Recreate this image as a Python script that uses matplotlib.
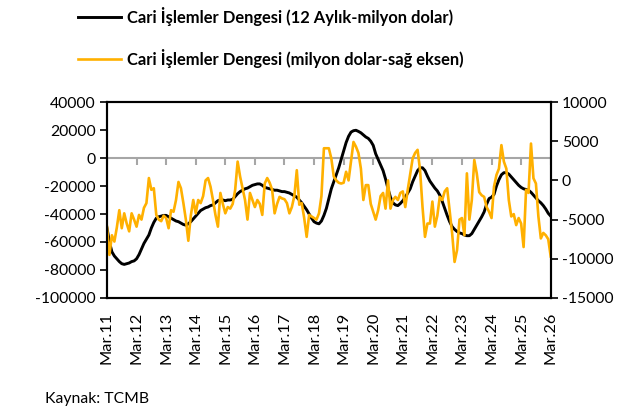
import numpy as np
import matplotlib
matplotlib.use("Agg")
from matplotlib import pyplot as plt

plt.rcParams['font.family'] = ['Lato', 'DejaVu Sans']
plt.rcParams['axes.unicode_minus'] = False

# 12 month rolling current account (million USD), monthly from Mar.11
cab_12m = [
  -50000, -60000, -67000, -70000, -72000, -74000, -75500, -76000, -75500, -75000,
  -74000, -73500, -72000, -69000, -65000, -61000, -58000, -55000, -50000, -46000,
  -43000, -42000, -41500, -41000, -41000, -42000, -43000, -44000, -45000, -45500,
  -46500, -47500, -48000, -47000, -45500, -43500, -41500, -39500, -37500, -36500,
  -35500, -35000, -34000, -33500, -32000, -30500, -30000, -30000, -30500, -30000,
  -30000, -29500, -27500, -25500, -24000, -23000, -22000, -21500, -20500, -19500,
  -19000, -18500, -18500, -19500, -21000, -21500, -22000, -22500, -23000, -23000,
  -23500, -24000, -24000, -24500, -25000, -26000, -27000, -28000, -30000, -32000,
  -34500, -37000, -40000, -43000, -45500, -46500, -47000, -45000, -41000, -36000,
  -29000, -22000, -17000, -12000, -7000, -1000, 5000, 11000, 15500, 18500,
  19500, 19800, 19000, 18000, 16500, 15000, 14000, 12000, 9000, 3000,
  -1000, -5000, -9000, -15000, -22000, -28000, -32000, -33500, -34000, -32500,
  -30500, -28000, -25000, -22000, -17000, -13000, -9000, -7000, -7000, -9000,
  -13000, -16500, -19000, -21500, -23500, -26500, -31000, -36000, -41000, -45500,
  -49000, -51000, -52500, -53500, -54000, -55000, -55500, -55500, -54000, -51000,
  -48000, -45000, -42000, -38500, -33000, -29000, -28000, -26000, -20000, -15500,
  -12000, -10500, -10500, -11500, -13500, -15500, -17500, -19500, -21000, -22000,
  -22500, -23000, -24500, -26500, -28500, -30500, -32000, -34000, -36500, -39500,
  -41500,
]

# monthly current account (million USD, right axis)
cab_monthly = [
  -5900, -9500, -7000, -7800, -6000, -3800, -6100, -4200, -5500, -6500,
  -4200, -5000, -5900, -4400, -5000, -3500, -2900, 300, -1200, -1000,
  -4400, -5000, -5200, -4500, -4800, -6100, -3800, -4000, -2500, -200,
  -1000, -2900, -5000, -7700, -4500, -2500, -4200, -2500, -2900, -2000,
  0, 300, -800, -2500, -4400, -5900, -1600, -3000, -4200, -3400,
  -3600, -3000, -1200, 2400, 500, -1000, -2500, -5000, -1600, -2500,
  -3400, -2500, -3000, -4400, -400, 300, -300, -1200, -4200, -3000,
  -2100, -2300, -2400, -2900, -4200, -3400, -2000, 1300, -3100, -2900,
  -4800, -7200, -4400, -4600, -4800, -5000, -4200, -2000, 4100, 4100,
  4100, 2800, 500, 0, -300, -400, -300, 1100, 0, 2500,
  4900, 4300, 3500, 1500, -2500, -600, -600, -3000, -4000, -5000,
  -3800, -2000, -1600, -3600, 0, -3600, -2500, -2100, -2500, -1600,
  -1400, -3400, -1200, 800, 2800, 3500, 3900, 1300, -3400, -7200,
  -5500, -5500, -2700, -5900, -4500, -2100, -2500, -1400, -1000, -3800,
  -6700, -10400, -8900, -5000, -4800, -7000, 900, -5000, -2500, 2600,
  900, -1500, -1900, -2100, -3400, -4000, -4800, -800, 700, 1500,
  4500, 2400, 1500, -2500, -4600, -4300, -5700, -4800, -5500, -8500,
  -1200, -1600, 4700, 270, -400, -4600, -7400, -6700, -7000, -7500,
  -9700,
]

year_labels = ['Mar.11', 'Mar.12', 'Mar.13', 'Mar.14', 'Mar.15', 'Mar.16', 'Mar.17', 'Mar.18',
               'Mar.19', 'Mar.20', 'Mar.21', 'Mar.22', 'Mar.23', 'Mar.24', 'Mar.25', 'Mar.26']

x = np.arange(len(cab_12m))
xt = np.arange(len(year_labels)) * 12

fig = plt.figure(figsize=(6.33, 4.09), dpi=100)
ax = fig.add_axes([0.169, 0.2714, 0.701, 0.4792])
ax2 = ax.twinx()

ax.axhline(0, color='#a6a6a6', lw=1.5, zorder=1)
ax.plot(xt, np.zeros(len(xt)), linestyle='none', marker=3, ms=5, mew=1.5, color='#a6a6a6', zorder=1)
l1, = ax.plot(x, cab_12m, color='black', lw=2.1, zorder=2,
              label='Cari İşlemler Dengesi (12 Aylık-milyon dolar)')
l2, = ax2.plot(x, cab_monthly, color='#FFB000', lw=1.9,
               label='Cari İşlemler Dengesi (milyon dolar-sağ eksen)')

ax.set_xlim(0, len(x) - 1)
ax.set_ylim(-100000, 40000)
ax.set_yticks(np.arange(-100000, 40001, 20000))
ax2.set_ylim(-15000, 10000)
ax2.set_yticks(np.arange(-15000, 10001, 5000))

ax.set_xticks(xt)
ax.set_xticklabels(year_labels, rotation=90)
ax.tick_params(axis='x', length=0, pad=10, labelsize=11.8)
ax.tick_params(axis='y', length=5, width=1.2, labelsize=11.3, pad=3)
ax2.tick_params(axis='y', length=5, width=1.2, labelsize=11.3, pad=3)

for a in (ax, ax2):
  for s in a.spines.values():
    s.set_linewidth(1.5)

fig.legend(handles=[l1, l2], loc='upper left', bbox_to_anchor=(0.1, 1.02),
           frameon=False, handlelength=2.6, handletextpad=0.35, labelspacing=1.38,
           prop={'weight': 'bold', 'size': 11.9})

fig.text(0.071, 0.014, 'Kaynak: TCMB', fontsize=11.3)

fig.savefig('out.png', dpi=100)
